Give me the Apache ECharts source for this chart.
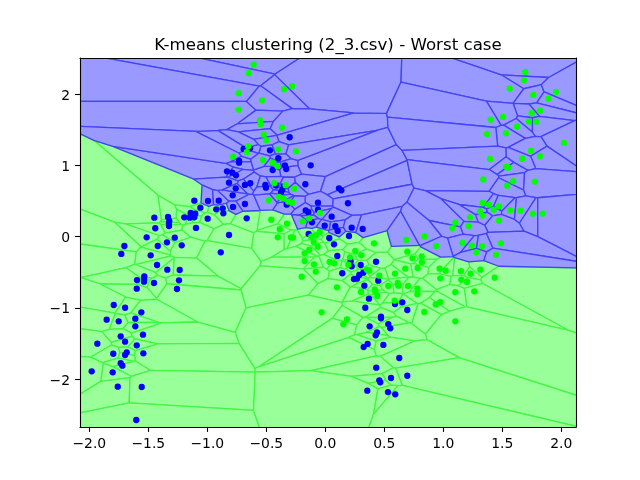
<!DOCTYPE html>
<html><head><meta charset="utf-8">
<style>html,body{margin:0;padding:0;background:#fff}#c{width:640px;height:480px}</style>
<script src="https://cdn.jsdelivr.net/npm/echarts@6/dist/echarts.min.js"></script>
</head><body><div id="c"></div>
<script>
const titleText = 'K-means clustering (2_3.csv) - Worst case';
const xRange = [-2.079, 2.125];
const yRange = [-2.674, 2.508];
const xTicks = [-2, -1.5, -1, -0.5, 0, 0.5, 1, 1.5, 2];
const yTicks = [-2, -1, 0, 1, 2];
const centroids = [[0.255, 0.817], [-0.255, -0.583]]; // cluster 0 paints blue, cluster 1 paints green
const bluePoints = [
[-0.692,1.230],[-0.731,1.062],[-0.731,1.038],[-0.833,0.917],[-0.788,0.897],[-0.757,0.861],[-0.302,1.395],[-0.469,1.212],[-0.638,1.240],[-0.398,1.100],[-0.124,1.001],[-0.342,1.001],[-0.331,0.949],[-0.446,0.935],
[-0.636,0.749],[-0.681,0.725],[-0.508,0.725],[-0.503,0.687],[-0.420,0.721],[-0.350,0.706],[-0.364,0.659],[-0.375,0.622],[-0.169,0.735],[0.116,0.678],[0.136,0.650],[-0.062,0.476],[0.192,0.468],[-0.327,0.448],[-0.166,0.369],[-0.144,0.341],[-0.062,0.378],[0.054,0.279],[-0.666,0.257],[-0.113,0.201],[-0.005,0.153],[0.085,0.145],[0.105,0.079],[0.224,0.125],[0.317,0.107],[-0.141,0.037],[0.034,-0.020],[0.201,0.008],[0.074,-0.108],[0.102,-0.272],[0.430,-0.353],[0.215,-0.347],[0.224,-0.417],[0.300,-0.399],[0.144,-0.515],[0.322,-0.507],[0.288,-0.539],[0.269,-0.591],[0.243,-0.596],[0.449,-0.619],[0.331,-0.690],[0.370,-0.872],[0.591,-0.947],[0.653,-0.923],
[-1.110,0.504],[-0.994,0.500],[-0.903,0.504],[-0.785,0.580],[-0.816,0.757],[-0.759,0.678],[-0.681,0.458],[-0.782,0.416],[-0.869,0.397],[-0.924,0.383],[-0.864,0.327],[-1.059,0.406],[-1.102,0.322],[-1.141,0.331],[-1.149,0.265],[-1.195,0.271],[-1.110,0.271],[-0.997,0.251],[-1.449,0.265],[-1.333,0.275],[-1.322,0.219],[-1.325,0.187],[-1.325,0.149],[-1.441,0.117],[-1.096,0.121],[-0.816,0.022],[-1.514,-0.010],[-1.276,-0.015],[-1.342,-0.080],[-1.217,-0.122],[-1.420,-0.132],[-1.703,-0.132],[-1.729,-0.244],[-1.480,-0.263],[-0.886,-0.221],[-1.426,-0.399],[-1.339,-0.465],[-1.234,-0.469],[-1.534,-0.558],[-1.536,-0.591],[-1.596,-0.610],[-1.536,-0.633],[-1.452,-0.652],[-1.240,-0.614],[-1.598,-0.732],[-1.257,-0.736],
[-1.793,-0.961],[-1.697,-0.999],[-1.559,-1.063],[-1.853,-1.167],[-1.751,-1.190],[-1.610,-1.153],[-1.610,-1.260],[-1.734,-1.400],[-1.545,-1.378],[-1.697,-1.476],[-1.932,-1.504],[-1.598,-1.527],[-1.683,-1.625],[-1.697,-1.663],[-1.797,-1.645],[-1.542,-1.639],[-1.734,-1.779],[-1.720,-1.813],[-1.980,-1.892],[-1.802,-1.906],[-1.759,-2.108],[-1.556,-2.112],[-1.602,-2.576],
[0.339,-0.999],[0.695,-1.031],[0.472,-1.125],[0.472,-1.147],[0.376,-1.260],[0.534,-1.228],[0.551,-1.288],[0.438,-1.344],[0.427,-1.386],[0.359,-1.508],[0.325,-1.551],[0.492,-1.522],[0.627,-1.705],[0.432,-1.841],[0.557,-1.986],[0.695,-1.954],[0.458,-2.018],[0.466,-2.046],[0.356,-2.164],[0.531,-2.183],[0.593,-2.215]
];
const greenPoints = [
[-0.607,2.414],[-0.649,2.294],[-0.282,2.111],[-0.350,2.069],[-0.734,2.013],[-0.734,1.782],[-0.536,1.914],[-0.553,1.633],[-0.547,1.577],[-0.367,1.530],[-0.522,1.431],[-0.500,1.353],[-0.653,1.268],[-0.665,1.185],[-0.401,1.226],[-0.248,1.198],[-0.528,1.076],[-0.446,1.038],[-0.407,0.992],[-0.782,1.122],
[1.695,2.312],[1.684,2.195],[1.563,2.077],[1.763,1.989],[1.955,2.031],[1.890,1.937],[1.819,1.768],[1.749,1.732],[1.506,1.680],[1.402,1.642],[1.724,1.614],[1.788,1.614],[1.625,1.544],[1.531,1.451],[1.370,1.441],[2.023,1.315],[1.743,1.206],[1.819,1.132],[1.669,1.094],[1.396,1.090],[1.534,0.982],[1.551,0.968],[1.339,0.802],[1.593,0.777],[1.542,0.715],[1.777,0.771],[1.334,0.472],[1.387,0.448],[1.472,0.426],[1.427,0.378],[1.311,0.355],[1.568,0.369],[1.653,0.364],[1.760,0.322],[1.842,0.322],[1.331,0.294],[1.226,0.271],[1.472,0.223],[1.102,0.195],[1.215,0.149],[1.076,0.117],[0.842,0.004],[1.164,-0.090],[1.241,-0.128],[1.328,-0.136],[1.489,-0.094],[0.941,-0.132],[1.280,-0.221],[1.447,-0.254],[0.817,-0.277],[0.739,-0.305],[0.819,-0.361],[0.783,-0.441],[0.969,-0.451],[1.020,-0.479],[1.150,-0.487],[1.232,-0.521],[1.314,-0.465],[1.436,-0.577],[0.975,-0.586],[1.153,-0.605],[1.201,-0.638],[0.781,-0.732],[0.781,-0.810],[1.102,-0.782],[1.263,-0.768],[0.974,-0.921],[0.936,-0.954],[0.839,-1.059],[1.102,-1.190],
[-0.432,0.749],[-0.336,0.721],[-0.263,0.673],[-0.480,0.510],[-0.392,0.556],[-0.356,0.538],[-0.314,0.490],[-0.280,0.476],[-0.045,0.331],[-0.136,0.257],[-0.192,0.215],[-0.458,0.237],[-0.325,0.181],[-0.386,0.103],[-0.403,-0.010],[-0.293,-0.010],[-0.274,-0.015],[-0.047,0.065],[-0.079,0.018],[-0.119,-0.001],[-0.098,-0.076],[-0.064,-0.142],[-0.136,-0.184],[-0.175,-0.235],[-0.175,-0.343],[-0.096,-0.389],[-0.081,-0.493],[-0.200,-0.563],[0.037,-0.357],[0.076,-0.375],[0.254,-0.202],[0.305,-0.263],[0.209,-0.291],[0.195,-0.395],[0.413,-0.094],[0.686,-0.048],[0.695,-0.212],[0.678,-0.451],[0.591,-0.521],[0.353,-0.465],[0.373,-0.479],[0.458,-0.549],[0.534,-0.694],[0.614,-0.652],[0.619,-0.690],[0.701,-0.694],[0.099,-0.712],[0.303,-0.778],[0.419,-0.740],[0.424,-0.774],[0.441,-0.834],[0.588,-0.900],[-0.031,-1.063],[0.184,-1.162],[0.153,-1.232]
];

const allPoints = bluePoints.concat(greenPoints);
function nearestCentroid(p){
  const d = c => (c[0]-p[0])**2 + (c[1]-p[1])**2;
  return d(centroids[0]) < d(centroids[1]) ? 0 : 1;
}
function voronoiCell(i){
  const p = allPoints[i], L = 60;
  let poly = [[-L,-L],[L,-L],[L,L],[-L,L]];
  for (let j = 0; j < allPoints.length && poly.length; j++){
    if (j === i) continue;
    const q = allPoints[j];
    const nx = q[0]-p[0], ny = q[1]-p[1];
    if (nx === 0 && ny === 0) continue;
    const mx = (p[0]+q[0])/2, my = (p[1]+q[1])/2;
    const side = v => (v[0]-mx)*nx + (v[1]-my)*ny;
    const out = [];
    for (let k = 0; k < poly.length; k++){
      const a = poly[k], b = poly[(k+1)%poly.length];
      const sa = side(a), sb = side(b);
      if (sa <= 0) out.push(a);
      if ((sa < 0 && sb > 0) || (sa > 0 && sb < 0)){
        const t = sa/(sa-sb);
        out.push([a[0]+t*(b[0]-a[0]), a[1]+t*(b[1]-a[1])]);
      }
    }
    poly = out;
  }
  return poly;
}
const cells = allPoints.map((p,i) => ({poly: voronoiCell(i), cluster: nearestCentroid(p)}));
const cellFill = ['#9999ff', '#99ff99'];
const cellEdge = ['#4343f6', '#43f643'];
const order = cells.map((c,i)=>i).sort((a,b)=>cells[b].cluster-cells[a].cluster);

const chart = echarts.init(document.getElementById('c'), null, {renderer:'canvas'});
const font = 'DejaVu Sans';
const minus = v => String(v).replace('-', '\u2212');
chart.setOption({
  animation:false,
  backgroundColor:'#fff',
  title:{text:titleText,left:323,top:32,textAlign:'center',textStyle:{fontFamily:font,fontSize:16.67,fontWeight:'normal',color:'#000'}},
  grid:{left:80,right:64,top:58,bottom:53,containLabel:false},
  xAxis:[
    {type:'value',position:'bottom',min:xRange[0],max:xRange[1],z:10,splitLine:{show:false},
     axisLine:{show:true,onZero:false,lineStyle:{color:'#000',width:1.1}},
     axisTick:{show:true,length:4.9,lineStyle:{color:'#000',width:1.1},customValues:xTicks},
     axisLabel:{show:true,customValues:xTicks,margin:10,fontFamily:font,fontSize:13.9,color:'#000',
       showMinLabel:true,showMaxLabel:true,formatter:v=>minus(v.toFixed(1))}},
    {type:'value',position:'top',min:xRange[0],max:xRange[1],z:10,splitLine:{show:false},
     axisLine:{show:true,onZero:false,lineStyle:{color:'#000',width:1.1}},axisTick:{show:false},axisLabel:{show:false}}
  ],
  yAxis:[
    {type:'value',position:'left',min:yRange[0],max:yRange[1],z:10,splitLine:{show:false},
     axisLine:{show:true,onZero:false,lineStyle:{color:'#000',width:1.1}},
     axisTick:{show:true,length:4.9,lineStyle:{color:'#000',width:1.1},customValues:yTicks},
     axisLabel:{show:true,customValues:yTicks,margin:10,fontFamily:font,fontSize:13.9,color:'#000',
       formatter:v=>'{n|'+minus(v)+'}',
       rich:{n:{fontFamily:font,fontSize:13.9,color:'#000',padding:[4,0,0,0]}}}},
    {type:'value',position:'right',min:yRange[0],max:yRange[1],z:10,splitLine:{show:false},
     axisLine:{show:true,onZero:false,lineStyle:{color:'#000',width:1.1}},axisTick:{show:false},axisLabel:{show:false}}
  ],
  series:[
    {type:'custom',name:'cells',coordinateSystem:'cartesian2d',clip:true,silent:true,z:1,
     data:order.map(i=>[allPoints[i][0],allPoints[i][1],i]),
     encode:{x:0,y:1},
     renderItem:(params,api)=>{
       const c = cells[api.value(2)];
       return {type:'polygon',shape:{points:c.poly.map(v=>api.coord(v))},
         style:{fill:cellFill[c.cluster],stroke:cellEdge[c.cluster],lineWidth:1.3,lineJoin:'round'}};
     }},
    {type:'scatter',name:'class 1',data:bluePoints,symbol:'circle',symbolSize:6.3,clip:true,silent:true,z:2,
     itemStyle:{color:'#0000ff',opacity:1}},
    {type:'scatter',name:'class 2',data:greenPoints,symbol:'circle',symbolSize:6.3,clip:true,silent:true,z:3,
     itemStyle:{color:'#00ff00',opacity:1}}
  ]
});
</script></body></html>
